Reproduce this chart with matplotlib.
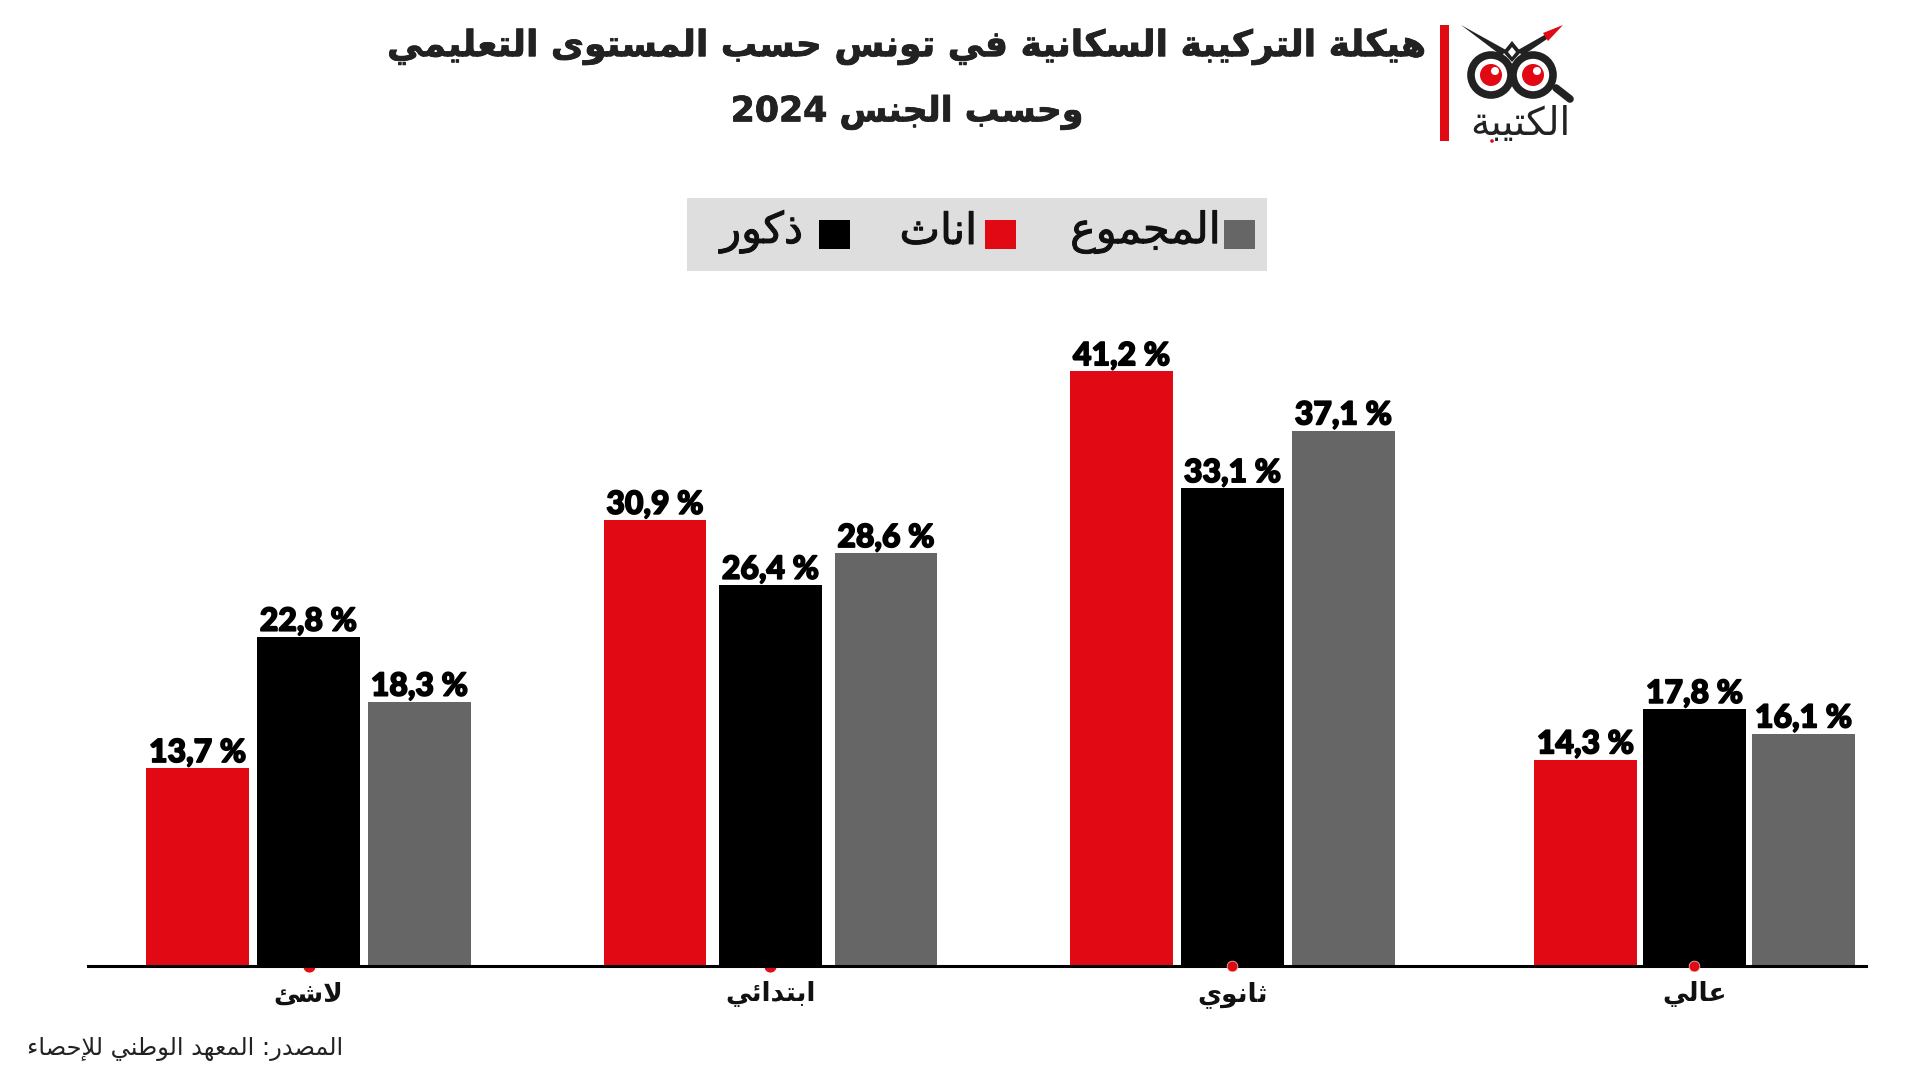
import re
import matplotlib
matplotlib.use('Agg')
import matplotlib.pyplot as plt
import matplotlib.patches as patches
import matplotlib.patheffects as pe

# data
categories = ['لاشئ', 'ابتدائي', 'ثانوي', 'عالي']
females = [13.7, 30.9, 41.2, 14.3]
males = [22.8, 26.4, 33.1, 17.8]
totals = [18.3, 28.6, 37.1, 16.1]
series_names = ['اناث', 'ذكور', 'المجموع']

title_1 = 'هيكلة التركيبة السكانية في تونس حسب المستوى التعليمي'
title_2 = 'وحسب الجنس 2024'
source = 'المصدر: المعهد الوطني للإحصاء'
logo_name = 'الكتيبة'

RED = '#E10A14'
BLACK = '#000000'
GRAY = '#666666'
DARK = '#222222'

# matplotlib has no arabic shaping, so map to presentation forms by hand
# letter: isolated, final, initial, medial
forms = {
    'ء': 'ﺀﺀﺀﺀ', 'إ': 'ﺇﺈﺇﺈ', 'ا': 'ﺍﺎﺍﺎ', 'ئ': 'ﺉﺊﺋﺌ', 'ب': 'ﺏﺐﺑﺒ', 'ة': 'ﺓﺔﺓﺔ',
    'ت': 'ﺕﺖﺗﺘ', 'ث': 'ﺙﺚﺛﺜ', 'ج': 'ﺝﺞﺟﺠ', 'ح': 'ﺡﺢﺣﺤ', 'د': 'ﺩﺪﺩﺪ', 'ذ': 'ﺫﺬﺫﺬ',
    'ر': 'ﺭﺮﺭﺮ', 'س': 'ﺱﺲﺳﺴ', 'ش': 'ﺵﺶﺷﺸ', 'ص': 'ﺹﺺﺻﺼ', 'ط': 'ﻁﻂﻃﻄ', 'ع': 'ﻉﻊﻋﻌ',
    'ف': 'ﻑﻒﻓﻔ', 'ك': 'ﻙﻚﻛﻜ', 'ل': 'ﻝﻞﻟﻠ', 'م': 'ﻡﻢﻣﻤ', 'ن': 'ﻥﻦﻧﻨ', 'ه': 'ﻩﻪﻫﻬ',
    'و': 'ﻭﻮﻭﻮ', 'ى': 'ﻯﻰﻯﻰ', 'ي': 'ﻱﻲﻳﻴ',
}
no_join_after = set('ءإادذرةوى')
lam_alef = {'ا': 'ﻻﻼ', 'إ': 'ﻹﻺ'}


def ar(text):
    text_out = []
    i = 0
    prev_joins = False
    while i < len(text):
        c = text[i]
        if c not in forms:
            text_out.append(c)
            prev_joins = False
            i += 1
            continue
        nxt = text[i + 1] if i + 1 < len(text) else ''
        if c == 'ل' and nxt in lam_alef:
            text_out.append(lam_alef[nxt][1 if prev_joins else 0])
            prev_joins = False
            i += 2
            continue
        joins_next = c not in no_join_after and nxt in forms
        idx = {(False, False): 0, (True, False): 1, (False, True): 2, (True, True): 3}[(prev_joins, joins_next)]
        text_out.append(forms[c][idx])
        prev_joins = joins_next
        i += 1
    # reverse for display, digits keep their order
    parts = re.split(r'(\d+)', ''.join(text_out))
    return ''.join(p if p.isdigit() else p[::-1] for p in parts[::-1])


plt.rcParams['font.family'] = ['DejaVu Sans']

fig = plt.figure(figsize=(19.2, 10.8), dpi=100)

# chart axes, x spans the baseline rule
ax = fig.add_axes([88 / 1920, 114 / 1080, 1778 / 1920, 716 / 1080])
ax.set_xlim((88 - 308.5) / 462, (1866 - 308.5) / 462)
ax.set_ylim(0, 716 / 14.43)

# the bar groups are not spaced quite evenly in the picture
spread = [0.240, 0.250, 0.240, 0.236]
width = 0.222
for k, (vals, col) in enumerate(zip([females, males, totals], [RED, BLACK, GRAY])):
    xs = [i + (k - 1) * spread[i] for i in range(len(vals))]
    ax.bar(xs, vals, width=width, color=col, zorder=2)
    for x, v in zip(xs, vals):
        ax.annotate(f'{v:.1f} %'.replace('.', ','), (x, v), xytext=(0, 4.5), textcoords='offset points',
                    ha='center', va='baseline', fontsize=23, family='Lato', weight='black', color='black',
                    path_effects=[pe.withStroke(linewidth=1.2, foreground='black')], zorder=5)

# small red tick dots
ax.scatter([0, 1], [0, 0], s=60, color=RED, clip_on=False, zorder=1)
ax.scatter([2, 3], [0, 0], s=60, color=RED, edgecolor='#f5d0c8', linewidth=0.5, clip_on=False, zorder=4)

for s in ['top', 'left', 'right']:
    ax.spines[s].set_visible(False)
ax.spines['bottom'].set_linewidth(2.2)
ax.spines['bottom'].set_zorder(3)
ax.set_yticks([])
ax.set_xticks(range(len(categories)))
ax.set_xticklabels([ar(c) for c in categories], fontsize=19, weight='bold', color='#111111')
ax.tick_params(axis='x', length=0, pad=11)
ax.patch.set_alpha(0)

# overlay in pixel coordinates for header, legend and logo
ov = fig.add_axes([0, 0, 1, 1], zorder=10)
ov.set_xlim(0, 1920)
ov.set_ylim(1080, 0)
ov.axis('off')

title_stroke = [pe.withStroke(linewidth=0.6, foreground=DARK)]
ov.text(907, 47, ar(title_1), ha='center', va='center', fontsize=26, weight='bold', color=DARK,
        path_effects=title_stroke)
ov.text(907, 112, ar(title_2), ha='center', va='center', fontsize=25, weight='bold', color=DARK,
        path_effects=title_stroke)
ov.text(343, 1049, ar(source), ha='right', va='center', fontsize=17.4, color='#222222')

# legend
ov.add_patch(patches.Rectangle((687, 198), 580, 73, color='#DEDEDE', lw=0))
legend_items = [(1224, GRAY, series_names[2], 1221), (985, RED, series_names[0], 977), (819, BLACK, series_names[1], 803)]
for x, col, name, tx in legend_items:
    ov.add_patch(patches.Rectangle((x, 220), 31, 29, color=col, lw=0))
    ov.text(tx, 232, ar(name), ha='right', va='center', fontsize=31, color='#111111',
            path_effects=[pe.withStroke(linewidth=0.7, foreground='#111111')])

# logo
ov.add_patch(patches.Rectangle((1440, 25), 9, 116, color=RED, lw=0))
ov.add_patch(patches.Polygon([(1461, 25), (1506, 50), (1502, 56)], color=DARK, lw=0))
ov.add_patch(patches.Polygon([(1518, 50), (1548, 33), (1550, 37), (1522, 56)], color=DARK, lw=0))
ov.add_patch(patches.Polygon([(1563, 25), (1543, 33), (1548, 41)], color=RED, lw=0))
ov.add_patch(patches.Polygon([(1512, 41), (1521, 52), (1512, 62), (1503, 52)], color=DARK, lw=0))
ov.add_patch(patches.Polygon([(1512, 47), (1516, 52), (1512, 57), (1508, 52)], color='white', lw=0))
ov.plot([1556, 1570], [88, 99], color=DARK, lw=5.5, solid_capstyle='round')
for cx in [1491, 1533]:
    ov.add_patch(patches.Circle((cx, 75), 20, facecolor='white', edgecolor=DARK, lw=5.5))
    ov.add_patch(patches.Circle((cx, 75), 11, color=RED, lw=0))
    ov.add_patch(patches.Circle((cx + 4, 71), 4, color='white', lw=0))
ov.text(1520, 124, ar(logo_name), ha='center', va='center', fontsize=28, color=DARK)
ov.add_patch(patches.Circle((1492, 141), 1.8, color=RED, lw=0))

fig.savefig('out.png', dpi=100)
